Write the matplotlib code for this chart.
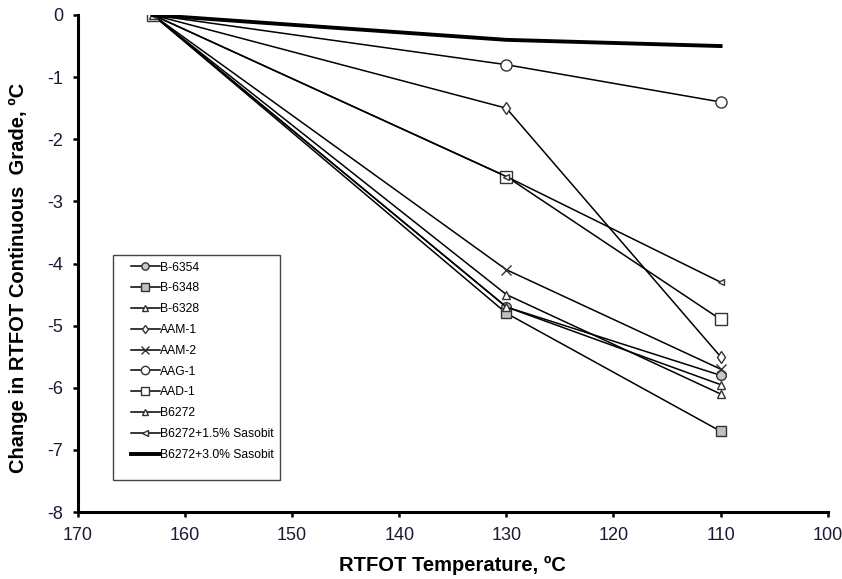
import matplotlib
matplotlib.use('Agg')
import matplotlib.pyplot as plt
from matplotlib.patches import Rectangle

plt.rcParams['font.family'] = ['Liberation Sans', 'DejaVu Sans']
plt.rcParams['axes.unicode_minus'] = False

temps = [163, 130, 110]

names = ['B-6354', 'B-6348', 'B-6328', 'AAM-1', 'AAM-2', 'AAG-1', 'AAD-1',
         'B6272', 'B6272+1.5% Sasobit', 'B6272+3.0% Sasobit']
b6354 = [0, -4.7, -5.8]
b6348 = [0, -4.8, -6.7]
b6328 = [0, -4.7, -5.95]
aam1 = [0, -1.5, -5.5]
aam2 = [0, -4.1, -5.7]
aag1 = [0, -0.8, -1.4]
aad1 = [0, -2.6, -4.9]
b6272 = [0, -4.5, -6.1]
b6272_15 = [0, -2.6, -4.3]
b6272_30 = [0, -0.4, -0.5]

series = [b6354, b6348, b6328, aam1, aam2, aag1, aad1, b6272, b6272_15, b6272_30]
# marker, fill colour, size, line width
styles = [('o', '#c8c8c8', 7, 1.1),
          ('s', '#c0c0c0', 7, 1.1),
          ('^', 'white', 6, 1.1),
          ('d', 'white', 6, 1.1),
          ('x', 'white', 7, 1.1),
          ('o', 'white', 8, 1.1),
          ('s', 'white', 8, 1.1),
          ('^', 'white', 6, 1.1),
          ('<', 'white', 5, 1.1),
          (None, 'white', 0, 2.8)]

fig = plt.figure(figsize=(8.42, 5.79), dpi=100)
ax = fig.add_axes([0.0926, 0.1157, 0.8904, 0.8584])

for vals, name, (mk, fc, ms, lw) in zip(series, names, styles):
    ax.plot(temps, vals, color='black', lw=lw, marker=mk, ms=ms,
            mfc=fc, mec='#333333', mew=1.0, label=name)

ax.set_xlim(170, 100)
ax.set_ylim(-8, 0)
ax.set_xticks(range(170, 99, -10))
ax.set_yticks(range(-8, 1))
for s in ['top', 'right']:
    ax.spines[s].set_visible(False)
for s in ['left', 'bottom']:
    ax.spines[s].set_linewidth(2.2)
ax.tick_params(width=1.8, length=3.5, labelsize=13, pad=7, labelcolor='#1a1a33')

ax.set_xlabel('RTFOT Temperature, \u00baC', fontsize=14.5, fontweight='bold', labelpad=9)
ax.set_ylabel('Change in RTFOT Continuous  Grade, \u00baC', fontsize=14.5,
              fontweight='bold')
ax.yaxis.set_label_coords(-0.066, 0.47)

# legend box drawn separately so padding matches
ax.add_patch(Rectangle((0.0467, 0.0644), 0.2226, 0.4526, transform=ax.transAxes,
                       fill=False, ec='#444444', lw=1.0, zorder=5))
leg = ax.legend(loc='upper left', bbox_to_anchor=(0.0707, 0.504), fontsize=8.7,
                frameon=False, markerscale=0.75,
                handlelength=2.4, handletextpad=0.0, labelspacing=0.73,
                borderpad=0, borderaxespad=0)

plt.savefig('out.png', dpi=100)
